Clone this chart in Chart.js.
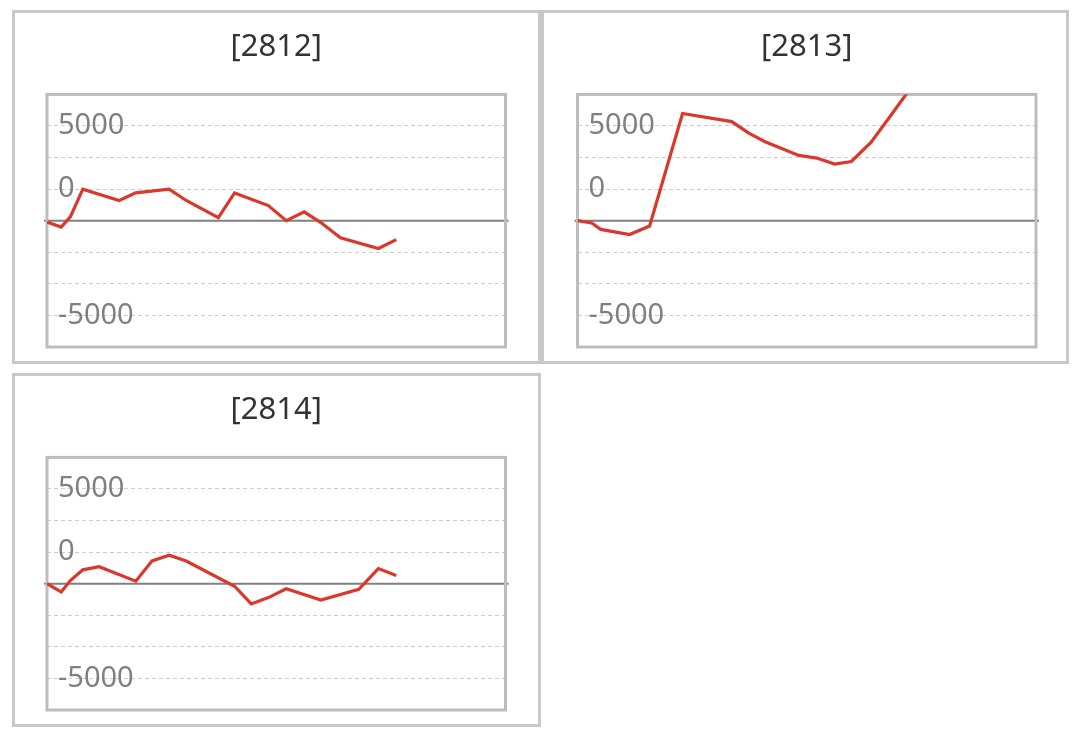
<!DOCTYPE html>
<html>
<head>
<meta charset="utf-8">
<script src="https://cdn.jsdelivr.net/npm/chart.js@4.4.1/dist/chart.umd.min.js"></script>
<style>
  html, body { margin: 0; padding: 0; background: #fff; }
  body { width: 1080px; height: 737px; position: relative; overflow: hidden; }
  .panel { position: absolute; box-sizing: border-box; border: 3px solid #c8c8c8; background: #fff; }
  .panel canvas { display: block; }
</style>
</head>
<body>
<div class="panel" style="left:12px; top:10px; width:529px; height:354px;"><canvas id="c2812"></canvas></div>
<div class="panel" style="left:541px; top:10px; width:528px; height:354px;"><canvas id="c2813"></canvas></div>
<div class="panel" style="left:12px; top:373px; width:529px; height:354px;"><canvas id="c2814"></canvas></div>
<script>
// x positions of the points (shared by the three series)
const xs = [0, 3.4, 5.6, 8.6, 12.5, 17.3, 21.3, 25.2, 29.3, 33.4, 37, 41.1, 45, 49, 53.1, 57.4, 61.7, 65.7, 70.4, 74.8, 79.5, 83.8];

const titles = ['[2812]', '[2813]', '[2814]'];

// null = no point at that position
const s2812 = [-100, -500, 300, 2500, null, 1600, 2200, null, 2500, 1600, null, 250, 2200, null, 1200, 0, 700, -150, -1350, null, -2200, -1500];
const s2813 = [0, -180, -690, null, -1100, -420, null, 8490, null, null, 7850, 6940, 6250, null, 5170, 4960, 4480, 4690, 6190, 8170, 10300, 12000];
const s2814 = [0, -650, 250, 1100, 1350, null, 200, 1800, 2250, 1800, null, null, -200, -1600, -1100, -400, null, -1300, null, -450, 1200, 650];

// y tick labels as they appear on the gridlines
const tickValues = [7500, 2500, -7500];
const tickLabels = ['5000', '0', '-5000'];

const framePlugin = {
  id: 'frame',
  beforeDatasetsDraw(chart) {
    const {ctx, chartArea: a, scales: {y}} = chart;
    const y0 = y.getPixelForValue(0);
    ctx.save();
    ctx.strokeStyle = '#808080';
    ctx.lineWidth = 2;
    ctx.beginPath();
    ctx.moveTo(a.left - 3, y0);
    ctx.lineTo(a.right + 3, y0);
    ctx.stroke();
    ctx.strokeStyle = '#bdbdbd';
    ctx.lineWidth = 3;
    ctx.strokeRect(a.left, a.top, a.right - a.left, a.bottom - a.top);
    ctx.restore();
  }
};

function makeChart(id, title, values, padL, padR) {
  const canvas = document.getElementById(id);
  const box = canvas.parentElement;
  canvas.width = box.clientWidth;
  canvas.height = box.clientHeight;
  canvas.style.width = box.clientWidth + 'px';
  canvas.style.height = box.clientHeight + 'px';

  new Chart(canvas, {
    type: 'line',
    data: {
      datasets: [{
        data: xs.map((x, i) => ({x: x, y: values[i]})),
        borderColor: '#d9382a',
        borderWidth: 3.2,
        pointRadius: 0,
        tension: 0,
        spanGaps: true,
        fill: false
      }]
    },
    options: {
      responsive: false,
      animation: false,
      layout: { padding: { left: padL, right: padR, top: 0, bottom: 14 } },
      plugins: {
        legend: { display: false },
        tooltip: { enabled: false },
        title: {
          display: true,
          text: title,
          color: '#333333',
          font: { family: 'Noto Sans', size: 31, weight: 'normal' },
          padding: { top: 16, bottom: 28.2 }
        }
      },
      scales: {
        x: { type: 'linear', display: false, min: 0, max: 110 },
        y: {
          min: -10000,
          max: 10000,
          afterFit: (s) => {
            s.width = 0;
            s.paddingTop = 0;
            s.paddingBottom = 0;
          },
          ticks: {
            stepSize: 2500,
            autoSkip: false,
            mirror: true,
            padding: 11,
            color: '#808080',
            font: { family: 'Noto Sans', size: 29 },
            callback: (v) => {
              const k = tickValues.indexOf(v);
              return k >= 0 ? tickLabels[k] : '';
            }
          },
          grid: { color: '#cccccc', lineWidth: 1, drawTicks: false },
          border: { display: false, dash: [4, 3] }
        }
      }
    },
    plugins: [framePlugin]
  });
}

makeChart('c2812', titles[0], s2812, 32, 32.5);
makeChart('c2813', titles[1], s2813, 33.5, 30);
makeChart('c2814', titles[2], s2814, 32, 32.5);
</script>
</body>
</html>
